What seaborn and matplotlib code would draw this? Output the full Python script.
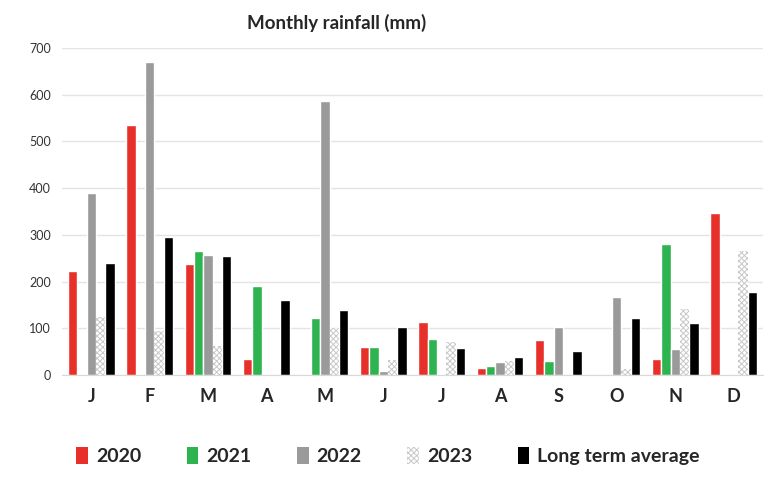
import numpy as np
import pandas as pd
import seaborn as sns
import matplotlib.pyplot as plt
from matplotlib.patches import Patch

months = ['J', 'F', 'M', 'A', 'M', 'J', 'J', 'A', 'S', 'O', 'N', 'D']
series = ['2020', '2021', '2022', '2023', 'Long term average']
r2020 = [222, 535, 238, 35, 0, 60, 113, 15, 76, 0, 35, 346]
r2021 = [0, 0, 265, 190, 122, 60, 77, 20, 31, 0, 280, 0]
r2022 = [390, 670, 258, 0, 586, 8, 0, 28, 104, 168, 57, 0]
r2023 = [125, 95, 63, 0, 100, 32, 70, 30, 0, 14, 142, 265]
lta = [240, 295, 255, 160, 140, 103, 58, 40, 52, 123, 112, 178]
colors = ['#e8302a', '#2db34f', '#9a9a9a', '#ffffff', '#000000']

rows = []
for name, vals in zip(series, [r2020, r2021, r2022, r2023, lta]):
    for i, v in enumerate(vals):
        rows.append({'pos': i, 'series': name, 'mm': v})
df = pd.DataFrame(rows)

sns.set_style('white')
plt.rcParams['font.family'] = ['Lato', 'DejaVu Sans']
plt.rcParams['hatch.color'] = '#c8c8c8'
plt.rcParams['hatch.linewidth'] = 0.7

fig = plt.figure(figsize=(7.76, 5.03), dpi=100)
ax = fig.add_axes([0.080, 0.254, 0.903, 0.651])
sns.barplot(data=df, x='pos', y='mm', hue='series', hue_order=series,
            palette=colors, width=0.8, gap=0, saturation=1, ax=ax)

# 2023 is drawn as a light hatched bar
for p in ax.containers[3]:
    p.set_facecolor('white')
    p.set_edgecolor('#c8c8c8')
    p.set_hatch('xxxxxx')
    p.set_linewidth(0)

ax.set_ylim(0, 700)
ax.set_xlim(-0.5, 11.5)
ax.set_yticks(range(0, 701, 100))
ax.yaxis.grid(True, color='#e4e4e4', linewidth=1)
ax.set_axisbelow(True)
for s in ['top', 'right', 'left']:
    ax.spines[s].set_visible(False)
ax.spines['bottom'].set_color('#d9d9d9')
ax.set_xticks(range(12))
ax.set_xticklabels(months, fontsize=13, fontweight='bold')
ax.tick_params(axis='y', labelsize=9, colors='#333333', length=0, pad=8)
ax.tick_params(axis='x', length=0, pad=9)
ax.set_xlabel('')
ax.set_ylabel('')

fig.text(0.318, 0.955, 'Monthly rainfall (mm)', fontsize=13.5, fontweight='bold', ha='left', va='center')

ax.get_legend().remove()
handles = []
for name, c in zip(series, colors):
    if name == '2023':
        handles.append(Patch(facecolor='white', edgecolor='#c8c8c8', hatch='xxxxxx', linewidth=0, label=name))
    else:
        handles.append(Patch(facecolor=c, linewidth=0, label=name))
fig.legend(handles=handles, loc='center', bbox_to_anchor=(0.5, 0.093), ncol=5,
           frameon=False, handlelength=0.6, handleheight=1.0,
           handletextpad=0.4, columnspacing=2.35,
           prop={'size': 14, 'weight': 'bold'})

plt.savefig('out.png', dpi=100)
